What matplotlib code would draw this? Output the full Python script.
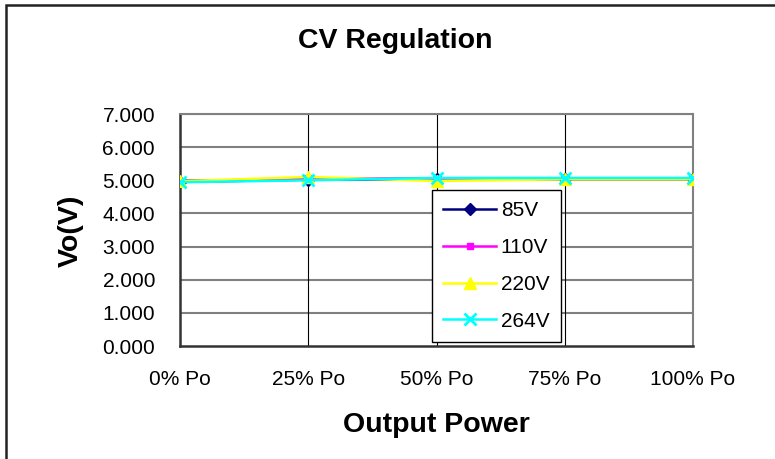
import numpy as np
import matplotlib.pyplot as plt
from matplotlib.patches import Rectangle

plt.rcParams['font.family'] = ['Liberation Sans', 'DejaVu Sans']

categories = ["0% Po", "25% Po", "50% Po", "75% Po", "100% Po"]
v85 = [4.95, 5.02, 5.05, 5.05, 5.05]
v110 = [4.96, 5.06, 5.04, 5.04, 5.04]
v220 = [4.97, 5.10, 4.98, 5.03, 5.03]
v264 = [4.94, 5.00, 5.07, 5.07, 5.07]
yticks = [0, 1, 2, 3, 4, 5, 6, 7]

W, H = 775, 459
fig = plt.figure(figsize=(W / 100, H / 100), dpi=100)
ax = fig.add_axes([180 / W, 1 - 346 / H, 513 / W, 232 / H])

x = np.arange(len(categories))
ax.plot(x, v85, color='#000080', lw=1.8, marker='D', ms=6, label='85V', zorder=3)
ax.plot(x, v110, color='#ff00ff', lw=1.8, marker='s', ms=5, label='110V', zorder=3)
ax.plot(x, v220, color='#ffff00', lw=1.8, marker='^', ms=9, label='220V', zorder=3)
ax.plot(x, v264, color='#00ffff', lw=1.8, marker='x', ms=9, mew=2, label='264V', zorder=3)

ax.set_xlim(0, len(categories) - 1)
ax.set_ylim(0, 7)
ax.set_xticks(x)
ax.set_xticklabels(categories)
ax.set_yticks(yticks)
ax.set_yticklabels(["%.3f" % v for v in yticks])
ax.tick_params(length=0, labelsize=15)
ax.tick_params(axis='x', pad=17)
ax.tick_params(axis='y', pad=18)

for y in yticks[1:]:
    ax.axhline(y, color='#808080', lw=1.5, zorder=1)
for xi in x[1:-1]:
    ax.axvline(xi, color='black', lw=0.8, zorder=1)

ax.spines['top'].set_color('#808080')
ax.spines['right'].set_color('#808080')
ax.spines['top'].set_linewidth(1.5)
ax.spines['right'].set_linewidth(1.5)
ax.spines['left'].set_color('#333333')
ax.spines['bottom'].set_color('#333333')
ax.spines['left'].set_linewidth(1.8)
ax.spines['bottom'].set_linewidth(1.8)

leg = ax.legend(loc='lower left', bbox_to_anchor=((432 - 180) / 513, 4 / 232),
                fontsize=15, frameon=True, fancybox=False, edgecolor='black',
                framealpha=1, handlelength=2.5, handletextpad=0.25,
                labelspacing=0.85, borderpad=0.55, borderaxespad=0)
leg.get_frame().set_linewidth(1.0)
leg.set_zorder(5)

fig.text(395 / W, 1 - 41 / H, "CV Regulation", ha='center', va='center',
         fontsize=20.5, fontweight='bold')
fig.text(436 / W, 1 - 425 / H, "Output Power", ha='center', va='center',
         fontsize=20.5, fontweight='bold')
fig.text(71 / W, 1 - 231 / H, "Vo(V)", ha='center', va='center',
         fontsize=20.5, fontweight='bold', rotation=90)

fig.add_artist(Rectangle((6 / W, -0.1), 1.2, 1 - 5 / H + 0.1, transform=fig.transFigure,
                         fill=False, edgecolor='#222222', lw=1.8, clip_on=False))

fig.savefig("out.png", dpi=100)
